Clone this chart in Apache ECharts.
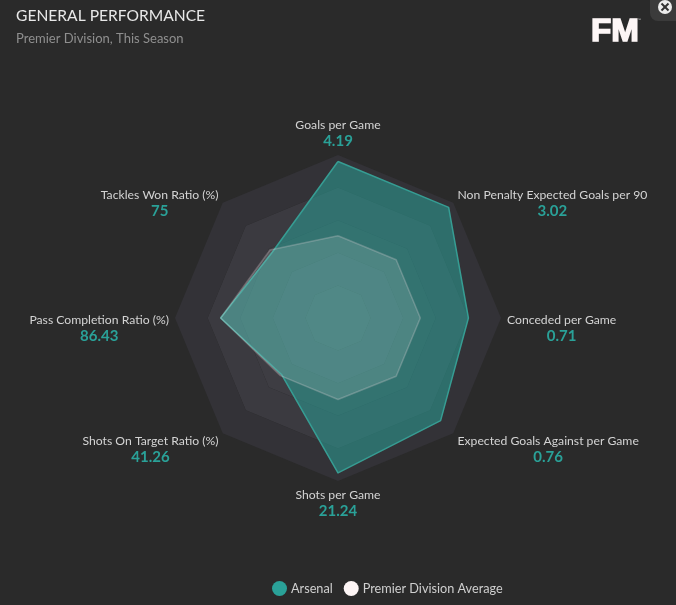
<!DOCTYPE html>
<html><head><meta charset="utf-8">
<style>html,body{margin:0;padding:0;background:#2a2a2a}#c{width:676px;height:605px}</style>
<script src="https://cdn.jsdelivr.net/npm/echarts@6/dist/echarts.min.js"></script>
</head><body><div id="c"></div>
<script>
// listed from the top vertex going anticlockwise, the order the radar lays its indicators out
const metrics = ['Goals per Game','Tackles Won Ratio (%)','Pass Completion Ratio (%)','Shots On Target Ratio (%)','Shots per Game','Expected Goals Against per Game','Conceded per Game','Non Penalty Expected Goals per 90'];
const metricValues = ['4.19','75','86.43','41.26','21.24','0.76','0.71','3.02'];
const arsenal = [96,57,72,49,95,89,80,96];
const leagueAverage = [50.5,59,72,50,50,50.5,50.5,50.5];
const labelSpacer = [0,10,20,24,0,24,20,10];
const FONT = 'Lato';
const chart = echarts.init(document.getElementById('c'));
chart.setOption({
  backgroundColor:'#2a2a2a',
  animation:false,
  title:{left:11,top:3,text:'GENERAL PERFORMANCE',subtext:'Premier Division, This Season',itemGap:8,
    textStyle:{color:'#e8e8e8',fontFamily:FONT,fontSize:15.6,fontWeight:'normal'},
    subtextStyle:{color:'#8f8f8f',fontFamily:FONT,fontSize:13}},
  legend:{left:267,top:576,itemWidth:15,itemHeight:15,itemGap:11,icon:'circle',
    data:['Arsenal','Premier Division Average'],
    textStyle:{color:'#cfcfcf',fontFamily:FONT,fontSize:12.7,padding:[0,0,0,-1]}},
  radar:{
    center:[338,318],radius:163,splitNumber:5,shape:'polygon',startAngle:90,
    indicator:metrics.map(n=>({name:n,max:100,min:0})),
    axisNameGap:6,
    axisName:{
      formatter:(name)=>{
        const i=metrics.indexOf(name);
        const sp=labelSpacer[i]?'{s'+labelSpacer[i]+'| }\n':'';
        return sp+'{n|'+name+'}\n{v|'+metricValues[i]+'}';
      },
      rich:{
        s10:{lineHeight:10,fontSize:1},s20:{lineHeight:20,fontSize:1},s24:{lineHeight:24,fontSize:1},
        n:{color:'#d4d4d4',fontFamily:FONT,fontSize:12.2,lineHeight:16,align:'center'},
        v:{color:'#2aa198',fontFamily:FONT,fontSize:15,fontWeight:'bold',lineHeight:16,align:'center'}
      }
    },
    axisLine:{show:false},axisTick:{show:false},axisLabel:{show:false},
    splitLine:{show:false},
    splitArea:{show:true,areaStyle:{color:['#47464c','#434248','#3e3d43','#3b3a40','#333237']}}
  },
  series:[{
    type:'radar',symbol:'none',
    data:[
      {name:'Arsenal',value:arsenal,
       itemStyle:{color:'#2aa198'},lineStyle:{color:'#3c9c92',width:1.5},
       areaStyle:{color:'#2aa198',opacity:0.54}},
      {name:'Premier Division Average',value:leagueAverage,
       itemStyle:{color:'#fdf5f5'},lineStyle:{color:'rgba(240,220,225,0.25)',width:1.5},
       areaStyle:{color:'#ffffff',opacity:0.13}}
    ]
  }],
  graphic:[
    {type:'rect',shape:{x:650,y:-10,width:40,height:31,r:8},style:{fill:'#3b3b3b'}},
    {type:'circle',shape:{cx:665,cy:7,r:7},style:{fill:'#ececec'}},
    {type:'line',shape:{x1:661.5,y1:3.5,x2:668.5,y2:10.5},style:{stroke:'#333',lineWidth:2}},
    {type:'line',shape:{x1:668.5,y1:3.5,x2:661.5,y2:10.5},style:{stroke:'#333',lineWidth:2}},
    {type:'text',x:591,y:17,scaleX:1.07,style:{text:'FM',fill:'#fdf6f6',stroke:'#fdf6f6',lineWidth:1.5,fontFamily:'Liberation Sans',fontWeight:'bold',fontSize:31}},
    {type:'text',x:637,y:18,style:{text:'™',fill:'#bbb',fontFamily:'Liberation Sans',fontSize:4}}
  ]
});
</script></body></html>
